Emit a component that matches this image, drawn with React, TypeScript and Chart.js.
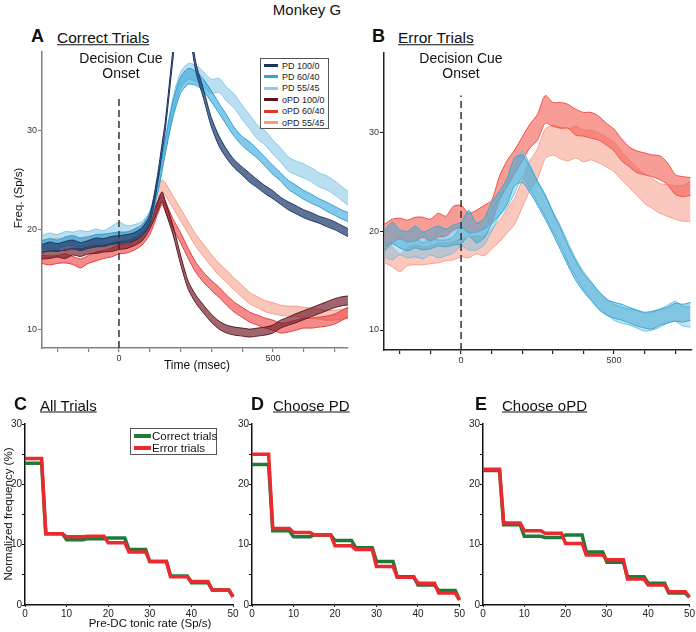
import React, { useEffect, useRef } from "react";
import { Chart, registerables } from "chart.js";
Chart.register(...registerables);

const FONT = "'Liberation Sans', Arial, Helvetica, sans-serif";

// ---------- Panel A: correct trials (time, ms) ----------
const timeA = [-250,-225,-200,-175,-150,-125,-100,-75,-50,-25,0,25,50,75,100,125,140,150,175,200,225,250,275,300,325,350,375,400,425,450,475,500,525,550,575,600,625,650,675,700,725,750];
const pd100Mean = [18.1,18.3,18.2,18.4,18.5,18.3,18.5,18.7,18.7,18.9, 19.0,19.1,19.3,19.8,21.0,25.0,28.2,30.3,37.5,44.0, 41.0,36.3,33.6,30.8,28.9,27.6,26.6,25.9,25.2,24.6, 24.0,23.5,22.9,22.4,22.0,21.6,21.3,21.0,20.7,20.4, 20.0,19.6];
const pd100Err = [0.4,0.45,0.4,0.4,0.45,0.4,0.4,0.45,0.4,0.4, 0.4,0.4,0.4,0.4,0.4,0.45,0.45,0.45,0.5,0.5, 0.5,0.45,0.45,0.45,0.5,0.45,0.4,0.4,0.45,0.4, 0.4,0.4,0.35,0.4,0.4,0.4,0.4,0.35,0.4,0.4, 0.4,0.4];
const pd6040Mean = [18.4,18.6,18.5,18.8,18.9,18.7,18.8,19.0,19.1,19.2, 19.3,19.3,19.6,20.0,21.2,24.2,26.6,28.3,32.0,34.5, 35.4,35.2,34.5,33.4,32.2,31.0,29.8,28.9,28.3,27.6, 26.8,26.0,25.3,24.5,24.0,23.5,23.1,22.7,22.3,21.9, 21.5,21.2];
const pd6040Err = [0.45,0.5,0.45,0.45,0.5,0.45,0.45,0.5,0.45,0.45, 0.45,0.45,0.45,0.5,0.5,0.6,0.7,0.7,0.8,0.8, 0.8,0.7,0.6,0.55,0.5,0.5,0.45,0.45,0.5,0.45, 0.45,0.45,0.4,0.45,0.45,0.45,0.45,0.4,0.45,0.45, 0.45,0.45];
const pd5545Mean = [18.9,19.1,19.0,19.3,19.2,19.4,19.3,19.5,19.4,19.8, 20.2,19.9,20.0,20.3,21.3,24.2,26.6,28.3,32.4,35.0, 35.9,35.7,35.1,34.4,34.5,33.6,32.9,31.8,30.8,29.8, 29.2,28.3,27.5,26.6,26.2,25.9,25.5,25.0,24.7,24.2, 23.6,23.0];
const pd5545Err = [0.5,0.55,0.5,0.5,0.55,0.5,0.5,0.55,0.5,0.5, 0.55,0.5,0.5,0.5,0.55,0.6,0.7,0.7,0.8,0.8, 0.8,0.8,0.75,0.7,0.7,0.7,0.7,0.7,0.7,0.7, 0.7,0.7,0.7,0.7,0.7,0.7,0.7,0.7,0.7,0.7, 0.7,0.7];
const opd100Mean = [17.4,17.5,17.6,17.5,17.8,17.7,17.9,18.0,18.1,18.2, 18.4,18.5,18.8,19.3,20.5,22.3,23.3,22.4,20.0,17.0, 14.4,13.0,12.0,11.1,10.4,10.0,9.8,9.7,9.6,9.7, 9.8,10.0,10.5,10.8,11.1,11.4,11.7,12.0,12.3,12.6, 12.8,12.9];
const opd100Err = [0.35,0.4,0.35,0.4,0.35,0.4,0.35,0.4,0.35,0.4, 0.4,0.4,0.4,0.45,0.45,0.5,0.5,0.5,0.45,0.45, 0.4,0.4,0.4,0.4,0.4,0.4,0.4,0.4,0.4,0.4, 0.4,0.4,0.4,0.4,0.45,0.45,0.45,0.45,0.45,0.45, 0.45,0.45];
const opd6040Mean = [17.0,16.9,17.0,17.1,16.9,16.6,17.0,17.3,17.5,17.7, 18.0,18.1,18.4,18.9,20.0,22.0,23.0,22.4,20.6,19.2, 17.6,16.2,15.2,14.4,13.7,12.9,12.2,11.7,11.2,10.9, 10.6,10.4,10.1,10.2,10.4,10.6,10.6,10.7,10.8,11.0, 11.4,11.8];
const opd6040Err = [0.4,0.45,0.4,0.45,0.4,0.45,0.4,0.45,0.4,0.45, 0.45,0.45,0.45,0.45,0.5,0.5,0.5,0.5,0.5,0.5, 0.5,0.5,0.5,0.5,0.5,0.5,0.5,0.5,0.5,0.5, 0.5,0.5,0.5,0.5,0.5,0.5,0.5,0.5,0.5,0.5, 0.5,0.5];
const opd5545Mean = [18.6,18.5,18.7,18.6,18.8,18.7,18.9,18.9,19.0,19.1, 19.2,19.3,19.5,19.9,21.0,23.2,24.4,24.1,22.8,21.5, 20.2,18.9,17.9,16.9,16.0,15.3,14.5,13.8,13.1,12.7, 12.3,12.1,11.9,11.8,11.8,11.7,11.6,11.5,11.4,11.4, 11.5,11.6];
const opd5545Err = [0.45,0.5,0.45,0.5,0.45,0.5,0.45,0.5,0.45,0.5, 0.5,0.5,0.5,0.5,0.55,0.6,0.6,0.6,0.6,0.6, 0.6,0.6,0.6,0.6,0.6,0.6,0.6,0.6,0.55,0.55, 0.55,0.55,0.5,0.5,0.5,0.5,0.5,0.5,0.5,0.5, 0.5,0.5];

// ---------- Panel B: error trials ----------
const timeB = [-250,-225,-200,-175,-150,-125,-100,-75,-50,-25,0,25,50,75,100,125,150,175,200,225,250,275,300,325,350,375,400,425,450,475,500,525,550,575,600,625,650,675,700,725,750];
const errPd6040Mean = [19.0,19.8,19.2,19.0,19.4,19.0,19.2,19.5,19.3,19.6, 19.8,20.8,19.8,20.3,21.8,22.8,24.0,26.0,26.3,25.2, 23.8,22.4,20.8,19.2,17.5,16.0,14.8,13.9,13.0,12.3, 12.0,11.8,11.5,11.2,11.0,11.0,11.3,11.5,11.8,11.7, 11.9];
const errPd6040Err = [1.0,1.1,0.9,1.0,1.1,0.9,1.0,1.0,0.9,1.0, 1.1,1.3,1.0,1.0,1.1,1.2,1.3,1.4,1.4,1.3, 1.2,1.2,1.1,1.1,1.0,1.0,0.9,0.9,0.9,0.8, 0.8,0.8,0.8,0.8,0.8,0.9,0.8,0.8,0.9,0.9, 0.9];
const errPd5545Mean = [18.2,18.0,18.4,18.1,18.3,18.0,18.4,18.2,18.3,18.6, 19.5,19.0,19.0,19.5,21.0,22.5,23.5,25.0,26.8,25.5, 24.0,22.6,21.0,19.5,17.8,16.3,15.0,14.0,13.0,12.4, 11.8,11.5,11.3,11.1,10.8,10.9,11.2,11.6,11.9,11.4, 11.3];
const errPd5545Err = [0.8,0.9,0.8,0.8,0.9,0.8,0.8,0.9,0.8,0.8, 1.0,0.9,0.9,0.9,1.0,1.0,1.1,1.2,1.3,1.2, 1.1,1.1,1.0,1.0,1.0,0.9,0.9,0.9,0.9,0.8, 0.8,0.8,0.8,0.9,0.9,0.9,0.9,0.9,1.0,1.0, 1.0];
const errOpd6040Mean = [19.6,20.0,20.3,20.0,20.2,20.4,20.1,20.6,20.5,21.3, 21.5,20.8,21.0,21.4,22.0,24.3,25.8,27.0,28.3,29.6, 30.5,32.3,31.8,31.7,31.6,31.0,30.8,30.7,30.4,29.8, 29.2,28.2,27.5,27.0,26.8,26.6,26.4,25.8,24.7,24.5, 24.5];
const errOpd6040Err = [1.1,1.2,1.0,1.1,1.2,1.0,1.1,1.2,1.0,1.2, 1.1,1.0,1.1,1.2,1.1,1.2,1.3,1.2,1.2,1.2, 1.3,1.4,1.2,1.3,1.2,1.3,1.2,1.3,1.2,1.1, 1.1,1.1,1.0,1.1,1.1,1.1,1.2,1.1,1.0,1.0, 0.9];
const errOpd5545Mean = [17.7,17.4,16.8,17.4,17.6,17.5,17.6,17.8,17.9,18.0, 18.3,18.3,18.6,18.5,19.2,20.0,21.0,22.0,23.8,25.6, 26.8,28.8,29.2,28.9,28.7,29.0,28.6,28.7,28.4,28.0, 27.5,26.6,25.8,25.0,24.3,23.8,23.3,23.1,22.9,22.8, 23.0];
const errOpd5545Err = [0.9,1.0,0.9,0.9,1.0,0.9,0.9,1.0,0.9,0.9, 0.9,1.0,0.9,1.0,1.0,1.1,1.2,1.3,1.4,1.5, 1.5,1.5,1.5,1.6,1.6,1.6,1.6,1.5,1.5,1.5, 1.5,1.4,1.4,1.4,1.5,1.5,1.5,1.6,1.7,1.8, 2.0];

const timeTicks = [-200,-100,0,100,200,300,400,500,600,700];
const timeTickLabels = [0, 500];
const freqTicks = [10, 20, 30];
const onsetMs = 0;

// ---------- Panels C-E: tonic-rate distributions ----------
const binLo = [0,5,10,15,20,25,30,35,40,45];
const binHi = [4,9,14,19,24,29,34,39,44,49];
const rateEnd = 50;
const allCorrect = [23.5,11.8,10.8,11.0,11.1,9.2,7.2,4.8,3.7,2.5];
const allCorrectEnd = 1.4;
const allError = [24.3,11.8,11.3,11.4,10.3,8.8,7.2,4.7,3.9,2.5];
const allErrorEnd = 1.3;
const pdCorrect = [23.3,12.3,11.3,11.6,10.7,9.5,7.2,4.7,3.3,2.4];
const pdCorrectEnd = 0.9;
const pdError = [25.0,12.7,12.0,11.6,9.8,9.2,6.4,4.6,3.6,2.0];
const pdErrorEnd = 0.8;
const opdCorrect = [22.3,13.3,11.4,11.2,11.6,8.8,7.1,4.7,3.6,2.0];
const opdCorrectEnd = 1.3;
const opdError = [22.5,13.6,12.3,11.9,10.2,8.3,7.5,4.3,3.3,2.2];
const opdErrorEnd = 1.3;
const rateTicks = [0,10,20,30,40,50];
const pctTicks = [0,5,10,15,20,25,30];

type Band = { label: string; mean: number[]; err: number[]; line: string; fill: string };

const seriesA: Band[] = [
  { label: "PD 100/0", mean: pd100Mean, err: pd100Err, line: "#1a3560", fill: "rgba(30,62,112,0.72)" },
  { label: "PD 60/40", mean: pd6040Mean, err: pd6040Err, line: "#2c9fd2", fill: "rgba(50,165,215,0.6)" },
  { label: "PD 55/45", mean: pd5545Mean, err: pd5545Err, line: "#86c6e6", fill: "rgba(140,202,232,0.6)" },
  { label: "oPD 100/0", mean: opd100Mean, err: opd100Err, line: "#5a1520", fill: "rgba(115,30,42,0.68)" },
  { label: "oPD 60/40", mean: opd6040Mean, err: opd6040Err, line: "#e53a3a", fill: "rgba(236,62,62,0.6)" },
  { label: "oPD 55/45", mean: opd5545Mean, err: opd5545Err, line: "#f49a85", fill: "rgba(246,160,140,0.6)" },
];
const legendColorsA = ["#17375e", "#2fa6d8", "#8ecbe7", "#5b1418", "#e3342f", "#f29a80"];

const seriesB: Band[] = [
  { label: "PD 60/40", mean: errPd6040Mean, err: errPd6040Err, line: "#3aa6d4", fill: "rgba(62,168,212,0.5)" },
  { label: "PD 55/45", mean: errPd5545Mean, err: errPd5545Err, line: "#6cbfe2", fill: "rgba(120,196,228,0.45)" },
  { label: "oPD 60/40", mean: errOpd6040Mean, err: errOpd6040Err, line: "#ef4c43", fill: "rgba(243,95,85,0.62)" },
  { label: "oPD 55/45", mean: errOpd5545Mean, err: errOpd5545Err, line: "#f6a08c", fill: "rgba(248,155,135,0.55)" },
];

function bandDatasets(t: number[], s: Band) {
  return [
    { label: s.label, data: t.map((x, i) => ({ x, y: s.mean[i] + s.err[i] })), borderColor: s.line, backgroundColor: s.fill, borderWidth: 1, pointRadius: 0, fill: "+1", tension: 0.25 },
    { label: s.label, data: t.map((x, i) => ({ x, y: s.mean[i] - s.err[i] })), borderColor: s.line, backgroundColor: s.fill, borderWidth: 1, pointRadius: 0, fill: false, tension: 0.25 },
  ];
}

type TimeProps = {
  left: number; top: number; width: number; height: number;
  yAxisW: number; xAxisH: number; padTop: number; padRight: number;
  xMin: number; xMax: number; yMin: number; yMax: number; dashTop: number;
  time: number[]; series: Band[]; axisColor: string;
};

function TimeChart(p: TimeProps) {
  const ref = useRef<HTMLCanvasElement | null>(null);
  useEffect(() => {
    const datasets: any[] = [
      { label: "onset", data: [{ x: onsetMs, y: p.yMin }, { x: onsetMs, y: p.dashTop }], borderColor: "#333", borderDash: [7, 4], borderWidth: 1.5, pointRadius: 0, fill: false },
    ];
    p.series.forEach((s) => datasets.push(...bandDatasets(p.time, s)));
    const chart = new Chart(ref.current as HTMLCanvasElement, {
      type: "line",
      data: { datasets },
      options: {
        animation: false,
        responsive: false,
        devicePixelRatio: 1,
        layout: { padding: { top: p.padTop, right: p.padRight, left: 0, bottom: 0 } },
        plugins: { legend: { display: false }, tooltip: { enabled: false } },
        scales: {
          x: {
            type: "linear", min: p.xMin, max: p.xMax,
            afterBuildTicks: (s: any) => { s.ticks = timeTicks.map((v) => ({ value: v })); },
            afterFit: (s: any) => { s.height = p.xAxisH; },
            ticks: { autoSkip: false, maxRotation: 0, padding: 1, color: "#333", font: { family: FONT, size: 9 },
              callback: (v: any) => (timeTickLabels.includes(Number(v)) ? String(v) : "") },
            grid: { drawOnChartArea: false, tickLength: 4, color: p.axisColor, lineWidth: 1.2 },
            border: { color: p.axisColor, width: 1.5 },
          },
          y: {
            type: "linear", min: p.yMin, max: p.yMax,
            afterBuildTicks: (s: any) => { s.ticks = freqTicks.map((v) => ({ value: v })); },
            afterFit: (s: any) => { s.width = p.yAxisW; },
            ticks: { autoSkip: false, padding: 1, color: "#333", font: { family: FONT, size: 9 } },
            grid: { drawOnChartArea: false, tickLength: 4, color: p.axisColor, lineWidth: 1 },
            border: { color: p.axisColor, width: 1.5 },
          },
        },
      } as any,
    });
    return () => chart.destroy();
  }, []);
  return <canvas ref={ref} width={p.width} height={p.height} style={{ position: "absolute", left: p.left, top: p.top, width: p.width, height: p.height }} />;
}

function stepPoints(vals: number[], end: number) {
  const pts: { x: number; y: number }[] = [];
  vals.forEach((v, i) => { pts.push({ x: binLo[i], y: v }); pts.push({ x: binHi[i], y: v }); });
  pts.push({ x: rateEnd, y: end });
  return pts;
}

type StepProps = {
  left: number; top: number; width: number; height: number;
  yAxisW: number; padRight: number;
  correct: number[]; correctEnd: number; error: number[]; errorEnd: number;
};

const GREEN = "#1f7a38";
const RED = "#ea2a2e";

function StepChart(p: StepProps) {
  const ref = useRef<HTMLCanvasElement | null>(null);
  useEffect(() => {
    const chart = new Chart(ref.current as HTMLCanvasElement, {
      type: "line",
      data: {
        datasets: [
          { label: "Error trials", data: stepPoints(p.error, p.errorEnd), borderColor: RED, borderWidth: 3.5, pointRadius: 0, fill: false, clip: 4 },
          { label: "Correct trials", data: stepPoints(p.correct, p.correctEnd), borderColor: GREEN, borderWidth: 3.5, pointRadius: 0, fill: false, clip: 4 },
        ],
      },
      options: {
        animation: false,
        responsive: false,
        devicePixelRatio: 1,
        layout: { padding: { top: 9, right: p.padRight, left: 0, bottom: 0 } },
        plugins: { legend: { display: false }, tooltip: { enabled: false } },
        scales: {
          x: {
            type: "linear", min: 0, max: 50,
            afterBuildTicks: (s: any) => { s.ticks = rateTicks.map((v) => ({ value: v })); },
            afterFit: (s: any) => { s.height = 20; },
            ticks: { autoSkip: false, maxRotation: 0, padding: 1, color: "#222", font: { family: FONT, size: 10 } },
            grid: { drawOnChartArea: false, tickLength: 2, color: "#111", lineWidth: 1 },
            border: { color: "#111", width: 1.5 },
          },
          y: {
            type: "linear", min: 0, max: 30,
            afterBuildTicks: (s: any) => { s.ticks = pctTicks.map((v) => ({ value: v })); },
            afterFit: (s: any) => { s.width = p.yAxisW; },
            ticks: { autoSkip: false, padding: 0, color: "#222", font: { family: FONT, size: 10 },
              callback: (v: any) => (Number(v) % 10 === 0 ? String(v) : "") },
            grid: { drawOnChartArea: false, tickLength: 3, color: "#111", lineWidth: 1 },
            border: { color: "#111", width: 1.5 },
          },
        },
      } as any,
    });
    return () => chart.destroy();
  }, []);
  return <canvas ref={ref} width={p.width} height={p.height} style={{ position: "absolute", left: p.left, top: p.top, width: p.width, height: p.height }} />;
}

type TxtProps = { x: number; y: number; size: number; bold?: boolean; underline?: boolean; center?: boolean; children: React.ReactNode };
function Txt({ x, y, size, bold, underline, center, children }: TxtProps) {
  return (
    <div style={{
      position: "absolute", left: x, top: y, fontFamily: FONT, fontSize: size, lineHeight: 1,
      fontWeight: bold ? "bold" : "normal", textDecoration: underline ? "underline" : "none",
      whiteSpace: "nowrap", color: "#111",
      transform: `translate(${center ? "-50%" : "0"}, -50%)`,
    }}>{children}</div>
  );
}

// Rotated text with an even-sized box so it lands on whole pixels.
function VTxt({ cx, cy, size, boxW, children }: { cx: number; cy: number; size: number; boxW: number; children: React.ReactNode }) {
  const boxH = 14;
  return (
    <div style={{
      position: "absolute", left: cx - boxW / 2, top: cy - boxH / 2, width: boxW, height: boxH,
      fontFamily: FONT, fontSize: size, lineHeight: `${boxH}px`, textAlign: "center", whiteSpace: "nowrap",
      color: "#111", transform: "rotate(-90deg)", transformOrigin: "50% 50%",
    }}>{children}</div>
  );
}

export default function App() {
  return (
    <div style={{ position: "absolute", left: 0, top: 0, width: 696, height: 632, background: "#fff", overflow: "hidden" }}>
      <Txt x={307} y={9} size={15} center>Monkey G</Txt>

      {/* Panel A */}
      <Txt x={31} y={36} size={18} bold>A</Txt>
      <Txt x={57} y={38} size={15.5} underline>Correct Trials</Txt>
      <TimeChart left={0} top={40} width={352} height={330} yAxisW={42} xAxisH={22} padTop={12} padRight={4}
        xMin={-250} xMax={744} yMin={8.1} yMax={37.85} dashTop={33.3} time={timeA} series={seriesA} axisColor="#808080" />
      <Txt x={121} y={58} size={14} center>Decision Cue</Txt>
      <Txt x={121} y={73} size={14} center>Onset</Txt>
      <Txt x={197} y={365} size={12} center>Time (msec)</Txt>
      <VTxt cx={18} cy={198} size={11.5} boxW={80}>Freq. (Sp/s)</VTxt>
      <div style={{ position: "absolute", left: 260, top: 58, width: 67, height: 69, border: "1px solid #555", background: "#fff" }}>
        {seriesA.map((s, i) => (
          <React.Fragment key={s.label}>
            <div style={{ position: "absolute", left: 3, top: 5 + i * 11.4, width: 14, height: 3, background: legendColorsA[i] }} />
            <div style={{ position: "absolute", left: 21, top: 1.5 + i * 11.4, fontFamily: FONT, fontSize: 9, lineHeight: "10px", color: "#222", whiteSpace: "nowrap" }}>{s.label}</div>
          </React.Fragment>
        ))}
      </div>

      {/* Panel B */}
      <Txt x={372} y={36} size={18} bold>B</Txt>
      <Txt x={398} y={38} size={15.5} underline>Error Trials</Txt>
      <TimeChart left={340} top={40} width={356} height={332} yAxisW={44} xAxisH={22} padTop={13} padRight={4}
        xMin={-252} xMax={755} yMin={7.98} yMax={38.0} dashTop={33.7} time={timeB} series={seriesB} axisColor="#222" />
      <Txt x={461} y={58} size={14} center>Decision Cue</Txt>
      <Txt x={461} y={73} size={14} center>Onset</Txt>

      {/* Panels C-E */}
      <Txt x={14} y={404} size={18} bold>C</Txt>
      <Txt x={40} y={405} size={15} underline>All Trials</Txt>
      <Txt x={251} y={404} size={18} bold>D</Txt>
      <Txt x={273} y={405} size={15} underline>Choose PD</Txt>
      <Txt x={475} y={404} size={18} bold>E</Txt>
      <Txt x={502} y={405} size={15} underline>Choose oPD</Txt>

      <StepChart left={0} top={415} width={240} height={210} yAxisW={25} padRight={7}
        correct={allCorrect} correctEnd={allCorrectEnd} error={allError} errorEnd={allErrorEnd} />
      <StepChart left={228} top={415} width={238} height={210} yAxisW={24} padRight={6}
        correct={pdCorrect} correctEnd={pdCorrectEnd} error={pdError} errorEnd={pdErrorEnd} />
      <StepChart left={460} top={415} width={236} height={210} yAxisW={23} padRight={4}
        correct={opdCorrect} correctEnd={opdCorrectEnd} error={opdError} errorEnd={opdErrorEnd} />

      <div style={{ position: "absolute", left: 130, top: 428, width: 85, height: 25, border: "1px solid #555", background: "#fff" }}>
        <div style={{ position: "absolute", left: 3, top: 5, width: 17, height: 4, background: GREEN }} />
        <div style={{ position: "absolute", left: 21, top: 1, fontFamily: FONT, fontSize: 11.5, lineHeight: "12px", color: "#111", whiteSpace: "nowrap" }}>Correct trials</div>
        <div style={{ position: "absolute", left: 3, top: 17, width: 17, height: 4, background: RED }} />
        <div style={{ position: "absolute", left: 21, top: 13, fontFamily: FONT, fontSize: 11.5, lineHeight: "12px", color: "#111", whiteSpace: "nowrap" }}>Error trials</div>
      </div>
      <VTxt cx={8} cy={514} size={11.5} boxW={150}>Normalized frequency (%)</VTxt>
      <Txt x={150} y={624} size={11.5} center>Pre-DC tonic rate (Sp/s)</Txt>
    </div>
  );
}
